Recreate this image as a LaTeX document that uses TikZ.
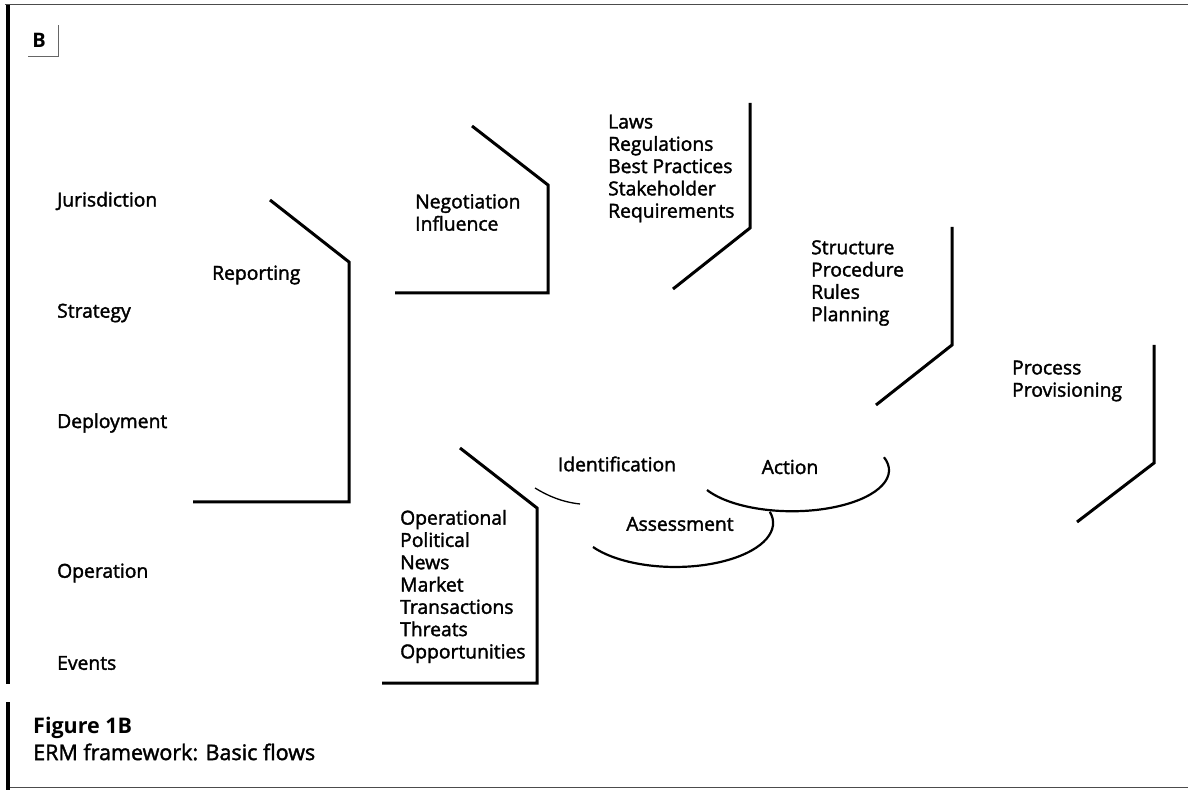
\documentclass[tikz,border=0pt]{standalone}
\usepackage{fontspec}
\setmainfont{Open Sans}
\newfontfamily\heavyfont{Open Sans}[FakeBold=1.8]
\usepackage{tikz}
\usetikzlibrary{calc}

\begin{document}
\begin{tikzpicture}[x=1pt,y=1pt,
	bracket/.style={line width=3pt},
	loop/.style={line width=2.2pt},
	lbl/.style={font=\heavyfont\fontsize{19.3}{22.3}\selectfont, align=left, inner sep=0pt},
	frame/.style={line width=1pt, black!70}]
	\useasboundingbox (0,0) rectangle (1188,790);
	% frame and caption
	\draw[frame] (5,785)--(1188,785);
	\draw[frame] (10,3)--(1188,3);
	\draw[line width=4pt] (8,785)--(8,106);
	\draw[line width=4pt] (8,88)--(8,0);
	\node[lbl, font=\fontsize{20}{22.3}\selectfont\bfseries] (tag) at (39,750) {B};
	\draw[black!60, line width=0.8pt] (28,734)--(58,734)--(58,765);
	\node[lbl, anchor=west, font=\fontsize{21.5}{24}\selectfont\bfseries] (fig) at (33,62) {Figure 1B};
	\node[lbl, anchor=west, font=\heavyfont\fontsize{21.5}{24}\selectfont] (cap) at (33,38) {ERM framework: Basic flows};
	% levels
	\node[lbl, anchor=west] (jur) at (57,589) {Jurisdiction};
	\node[lbl, anchor=west] (str) at (57,477) {Strategy};
	\node[lbl, anchor=west] (dep) at (57,367) {Deployment};
	\node[lbl, anchor=west] (ope) at (57,217) {Operation};
	\node[lbl, anchor=west] (evt) at (57,127) {Events};
	% flows
	\draw[bracket] (270,590)--(349,528)--(349,288)--(193,288);
	\node[lbl, anchor=west] (rep) at (212,515) {Reporting};
	\draw[bracket] (472,664)--(548,605)--(548,497)--(395,497);
	\node[lbl, anchor=west] (neg) at (415,577.5) {Negotiation\\Influence};
	\draw[bracket] (750,687)--(750,562)--(673,501);
	\node[lbl, anchor=west] (law) at (608,621.5) {Laws\\Regulations\\Best Practices\\Stakeholder\\Requirements};
	\draw[bracket] (952,563)--(952,445)--(876,385);
	\node[lbl, anchor=west] (rul) at (811,507) {Structure\\Procedure\\Rules\\Planning};
	\draw[bracket] (1154,445)--(1154,327)--(1077,268);
	\node[lbl, anchor=west] (pro) at (1012,409) {Process\\Provisioning};
	\draw[bracket] (460,342)--(537,282)--(537,107)--(382,107);
	\node[lbl, anchor=west] (src) at (400,203.5) {Operational\\Political\\News\\Market\\Transactions\\Threats\\Opportunities};
	% cycle
	\node[lbl] (idt) at (617,326) {Identification};
	\node[lbl] (act) at (790,323) {Action};
	\node[lbl] (ass) at (680,266) {Assessment};
	\draw[line width=1.3pt] (535,302) .. controls (548,294) and (562,288) .. (580,286);
	\draw[loop] (707,300) arc[start angle=208.8, end angle=378.5, x radius=97, y radius=41];
	\draw[loop] (593,243) arc[start angle=213.1, end angle=374.8, x radius=98, y radius=44];
\end{tikzpicture}
\end{document}
